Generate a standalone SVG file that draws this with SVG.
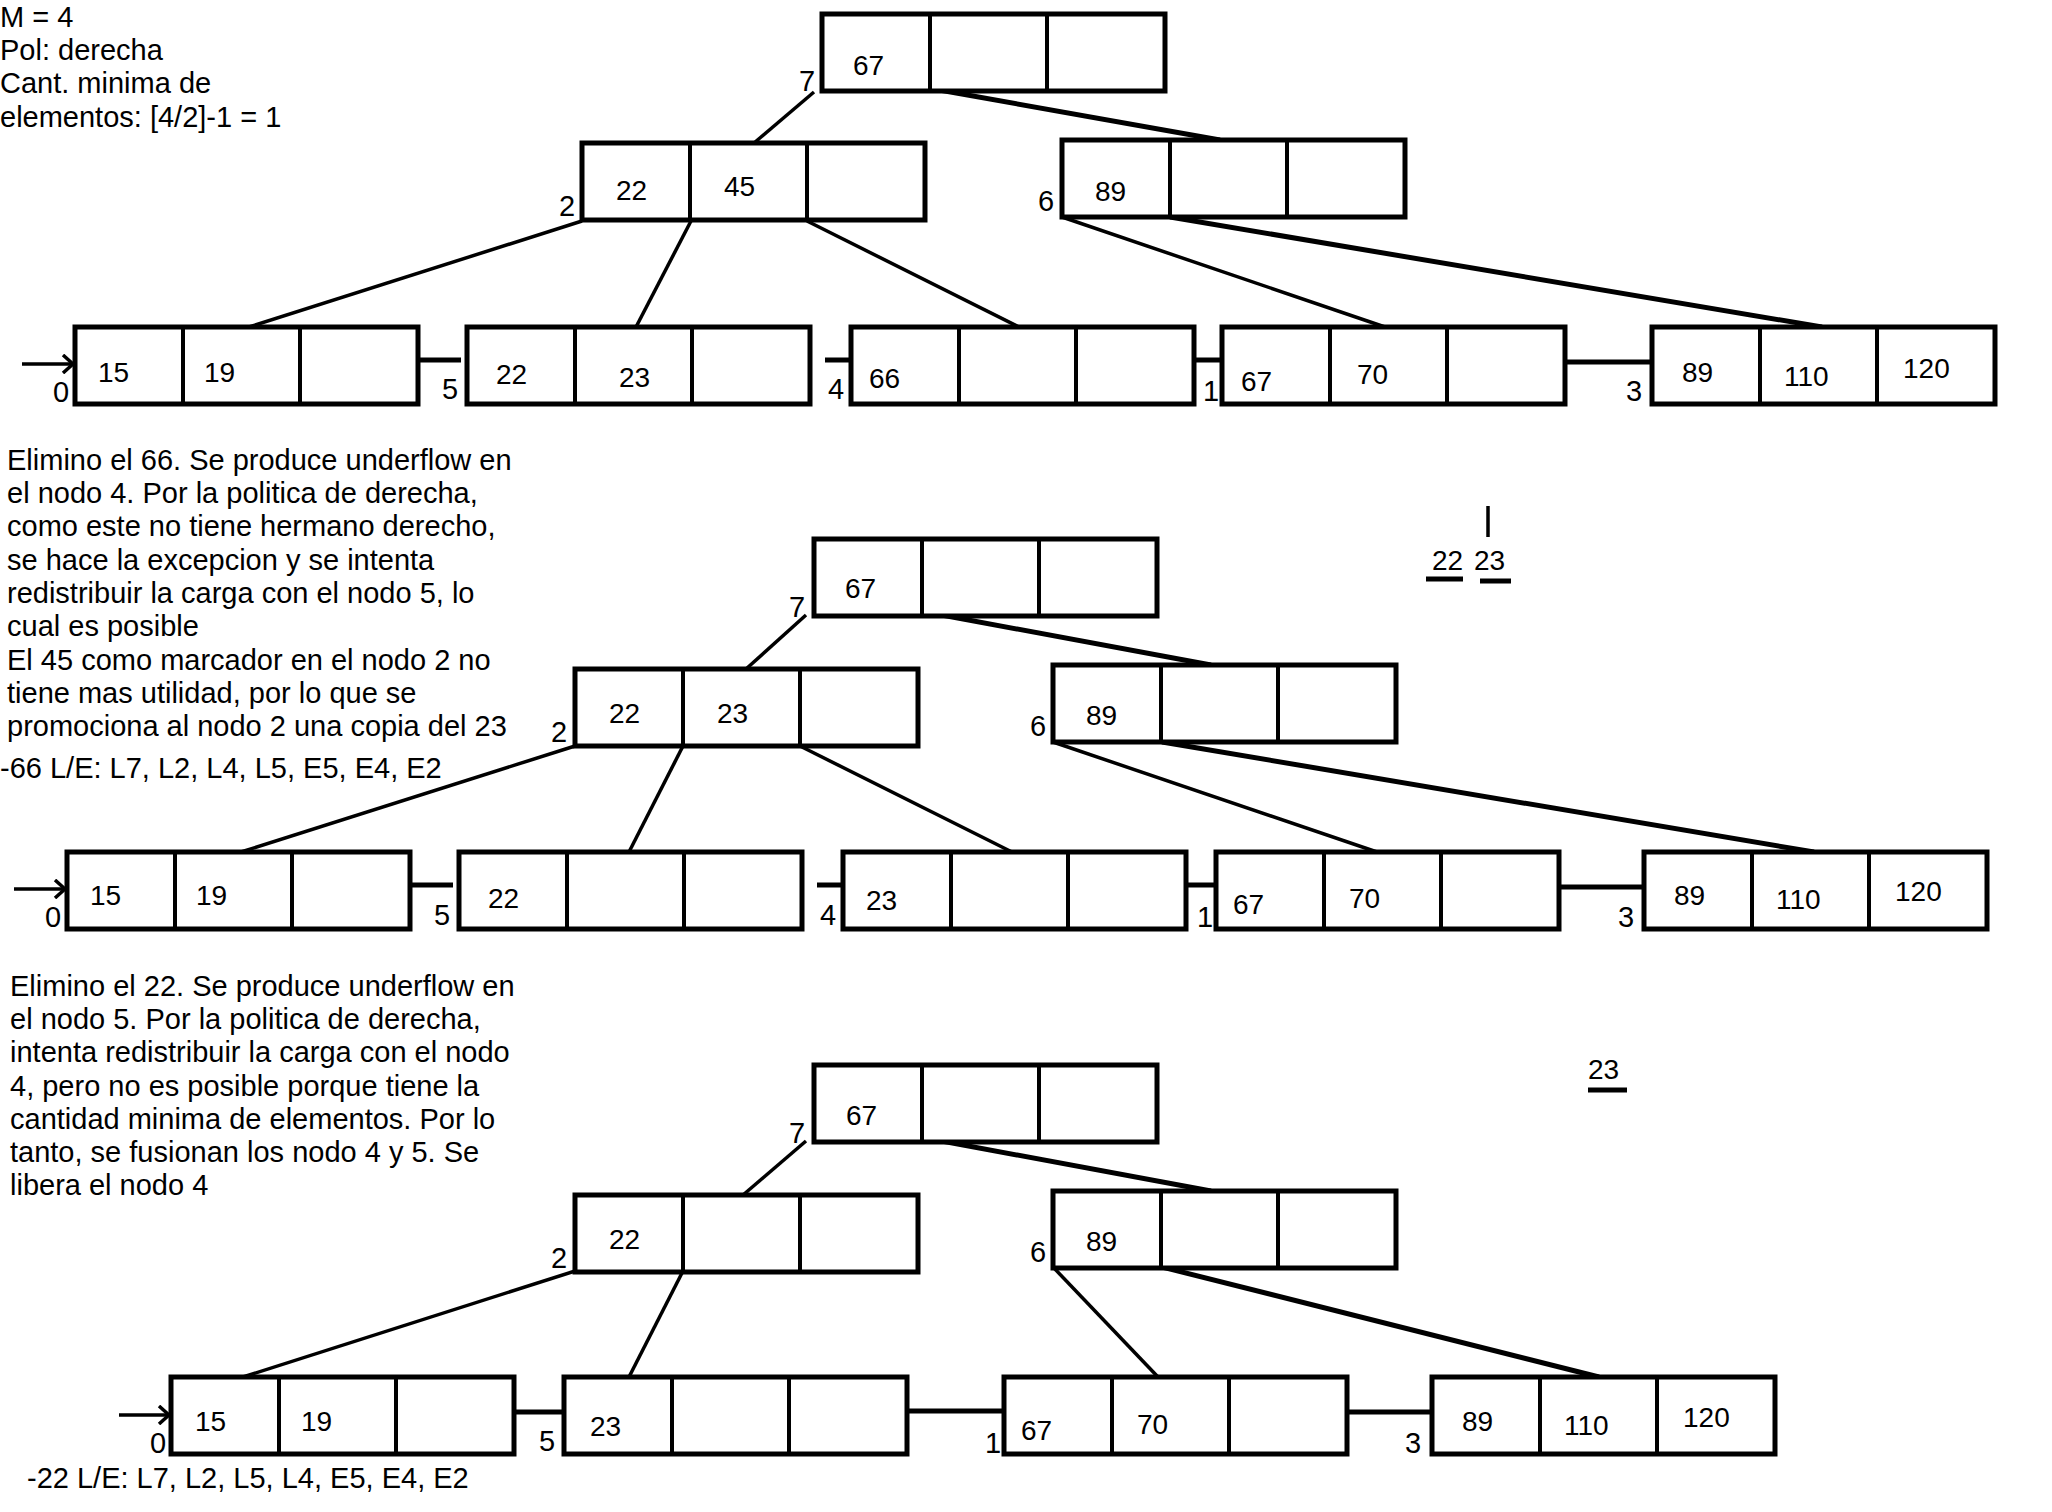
<svg xmlns="http://www.w3.org/2000/svg" xmlns:xlink="http://www.w3.org/1999/xlink" width="2052" height="1512" viewBox="0 0 2052 1512">
<style>
.t{font-family:"Liberation Sans",Arial,sans-serif;font-size:29px;fill:#000}
.n{font-family:"Liberation Sans",Arial,sans-serif;font-size:28px;fill:#000}
.l{font-family:"Liberation Sans",Arial,sans-serif;font-size:29px;fill:#000}
.bx{fill:#fff;stroke:#000;stroke-width:5}
.dv{stroke:#000;stroke-width:4;fill:none}
.e{stroke:#000;stroke-width:3.5;fill:none}
.ek{stroke:#000;stroke-width:5;fill:none}
.lk{stroke:#000;stroke-width:5;fill:none}
</style>
<defs>
<g id="box"><rect class="bx" x="0" y="0" width="343" height="77"/><path class="dv" d="M108 0V77M225 0V77"/></g>
<marker id="ah" markerWidth="14" markerHeight="20" refX="12" refY="10" orient="auto" markerUnits="userSpaceOnUse"><path d="M2 1L12 10L2 19" fill="none" stroke="#000" stroke-width="3.5"/></marker>
</defs>
<rect width="2052" height="1512" fill="#fff"/>

<g id="header">
<text class="t" x="0" y="27">M = 4</text>
<text class="t" x="0" y="60">Pol: derecha</text>
<text class="t" x="0" y="93">Cant. minima de</text>
<text class="t" x="0" y="127">elementos: [4/2]-1 = 1</text>
</g>

<!-- ===== Section 1 ===== -->
<g id="s1-connectors">
<path class="e" d="M814 92L754 143"/>
<path class="ek" d="M928 88L1220 140"/>
<path class="e" d="M582 221L249 327"/>
<path class="e" d="M691 221L636 327"/>
<path class="e" d="M807 221L1019 327"/>
<path class="e" d="M1062 217L1385 327"/>
<path class="ek" d="M1170 217L1822 327"/>
<path class="lk" d="M417 360H461M825 360H851M1195 360H1222M1567 362H1652"/>
<path class="e" d="M22 364H73" marker-end="url(#ah)"/>
</g>
<g id="s1-n7"><use xlink:href="#box" x="822" y="14"/><text class="n" x="853" y="75">67</text><text class="l" x="799" y="91">7</text></g>
<g id="s1-n2"><use xlink:href="#box" x="582" y="143"/><text class="n" x="616" y="200">22</text><text class="n" x="724" y="196">45</text><text class="l" x="559" y="216">2</text></g>
<g id="s1-n6"><use xlink:href="#box" x="1062" y="140"/><text class="n" x="1095" y="201">89</text><text class="l" x="1038" y="211">6</text></g>
<g id="s1-n0"><use xlink:href="#box" x="75" y="327"/><text class="n" x="98" y="382">15</text><text class="n" x="204" y="382">19</text><text class="l" x="53" y="402">0</text></g>
<g id="s1-n5"><use xlink:href="#box" x="467" y="327"/><text class="n" x="496" y="384">22</text><text class="n" x="619" y="387">23</text><text class="l" x="442" y="399">5</text></g>
<g id="s1-n4"><use xlink:href="#box" x="851" y="327"/><text class="n" x="869" y="388">66</text><text class="l" x="828" y="399">4</text></g>
<g id="s1-n1"><use xlink:href="#box" x="1222" y="327"/><text class="n" x="1241" y="391">67</text><text class="n" x="1357" y="384">70</text><text class="l" x="1203" y="401">1</text></g>
<g id="s1-n3"><use xlink:href="#box" x="1652" y="327"/><text class="n" x="1682" y="382">89</text><text class="n" x="1784" y="386">110</text><text class="n" x="1903" y="378">120</text><text class="l" x="1626" y="401">3</text></g>

<g id="s2-text">
<text class="t" x="7" y="470">Elimino el 66. Se produce underflow en</text>
<text class="t" x="7" y="503">el nodo 4. Por la politica de derecha,</text>
<text class="t" x="7" y="536">como este no tiene hermano derecho,</text>
<text class="t" x="7" y="570">se hace la excepcion y se intenta</text>
<text class="t" x="7" y="603">redistribuir la carga con el nodo 5, lo</text>
<text class="t" x="7" y="636">cual es posible</text>
<text class="t" x="7" y="670">El 45 como marcador en el nodo 2 no</text>
<text class="t" x="7" y="703">tiene mas utilidad, por lo que se</text>
<text class="t" x="7" y="736">promociona al nodo 2 una copia del 23</text>
<text class="t" x="0" y="778">-66 L/E: L7, L2, L4, L5, E5, E4, E2</text>
</g>

<!-- ===== Section 2 ===== -->
<g id="s2-connectors">
<path class="e" d="M806 615L746 669"/>
<path class="ek" d="M920 611L1211 665"/>
<path class="e" d="M575 746L241 852"/>
<path class="e" d="M683 746L629 852"/>
<path class="e" d="M800 746L1012 852"/>
<path class="e" d="M1053 742L1377 852"/>
<path class="ek" d="M1162 742L1814 852"/>
<path class="lk" d="M411 885H453M817 885H843M1187 885H1216M1559 887H1644"/>
<path class="e" d="M14 889H65" marker-end="url(#ah)"/>
</g>
<g id="s2-n7"><use xlink:href="#box" x="814" y="539"/><text class="n" x="845" y="598">67</text><text class="l" x="789" y="617">7</text></g>
<g id="s2-n2"><use xlink:href="#box" x="575" y="669"/><text class="n" x="609" y="723">22</text><text class="n" x="717" y="723">23</text><text class="l" x="551" y="742">2</text></g>
<g id="s2-n6"><use xlink:href="#box" x="1053" y="665"/><text class="n" x="1086" y="725">89</text><text class="l" x="1030" y="736">6</text></g>
<g id="s2-n0"><use xlink:href="#box" x="67" y="852"/><text class="n" x="90" y="905">15</text><text class="n" x="196" y="905">19</text><text class="l" x="45" y="927">0</text></g>
<g id="s2-n5"><use xlink:href="#box" x="459" y="852"/><text class="n" x="488" y="908">22</text><text class="l" x="434" y="925">5</text></g>
<g id="s2-n4"><use xlink:href="#box" x="843" y="852"/><text class="n" x="866" y="910">23</text><text class="l" x="820" y="925">4</text></g>
<g id="s2-n1"><use xlink:href="#box" x="1216" y="852"/><text class="n" x="1233" y="914">67</text><text class="n" x="1349" y="908">70</text><text class="l" x="1197" y="927">1</text></g>
<g id="s2-n3"><use xlink:href="#box" x="1644" y="852"/><text class="n" x="1674" y="905">89</text><text class="n" x="1776" y="909">110</text><text class="n" x="1895" y="901">120</text><text class="l" x="1618" y="927">3</text></g>
<g id="s2-note">
<path class="e" d="M1488 506V537"/>
<text class="n" x="1432" y="570">22</text><text class="n" x="1474" y="570">23</text>
<path class="ek" d="M1426 579H1463M1480 581H1511"/>
</g>

<g id="s3-text">
<text class="t" x="10" y="996">Elimino el 22. Se produce underflow en</text>
<text class="t" x="10" y="1029">el nodo 5. Por la politica de derecha,</text>
<text class="t" x="10" y="1062">intenta redistribuir la carga con el nodo</text>
<text class="t" x="10" y="1096">4, pero no es posible porque tiene la</text>
<text class="t" x="10" y="1129">cantidad minima de elementos. Por lo</text>
<text class="t" x="10" y="1162">tanto, se fusionan los nodo 4 y 5. Se</text>
<text class="t" x="10" y="1195">libera el nodo 4</text>
<text class="t" x="27" y="1488">-22 L/E: L7, L2, L5, L4, E5, E4, E2</text>
</g>

<!-- ===== Section 3 ===== -->
<g id="s3-connectors">
<path class="e" d="M806 1141L743 1195"/>
<path class="ek" d="M920 1137L1211 1191"/>
<path class="e" d="M575 1271L243 1377"/>
<path class="e" d="M683 1271L629 1377"/>
<path class="e" d="M1053 1267L1158 1377"/>
<path class="ek" d="M1162 1267L1599 1377"/>
<path class="lk" d="M516 1412H564M908 1411H1004M1347 1412H1437"/>
<path class="e" d="M119 1415H169" marker-end="url(#ah)"/>
</g>
<g id="s3-n7"><use xlink:href="#box" x="814" y="1065"/><text class="n" x="846" y="1125">67</text><text class="l" x="789" y="1143">7</text></g>
<g id="s3-n2"><use xlink:href="#box" x="575" y="1195"/><text class="n" x="609" y="1249">22</text><text class="l" x="551" y="1268">2</text></g>
<g id="s3-n6"><use xlink:href="#box" x="1053" y="1191"/><text class="n" x="1086" y="1251">89</text><text class="l" x="1030" y="1262">6</text></g>
<g id="s3-n0"><use xlink:href="#box" x="171" y="1377"/><text class="n" x="195" y="1431">15</text><text class="n" x="301" y="1431">19</text><text class="l" x="150" y="1453">0</text></g>
<g id="s3-n5"><use xlink:href="#box" x="564" y="1377"/><text class="n" x="590" y="1436">23</text><text class="l" x="539" y="1451">5</text></g>
<g id="s3-n1"><use xlink:href="#box" x="1004" y="1377"/><text class="n" x="1021" y="1440">67</text><text class="n" x="1137" y="1434">70</text><text class="l" x="985" y="1453">1</text></g>
<g id="s3-n3"><use xlink:href="#box" x="1432" y="1377"/><text class="n" x="1462" y="1431">89</text><text class="n" x="1564" y="1435">110</text><text class="n" x="1683" y="1427">120</text><text class="l" x="1405" y="1453">3</text></g>
<g id="s3-note">
<text class="n" x="1588" y="1079">23</text>
<path class="ek" d="M1588 1090H1627"/>
</g>
</svg>
